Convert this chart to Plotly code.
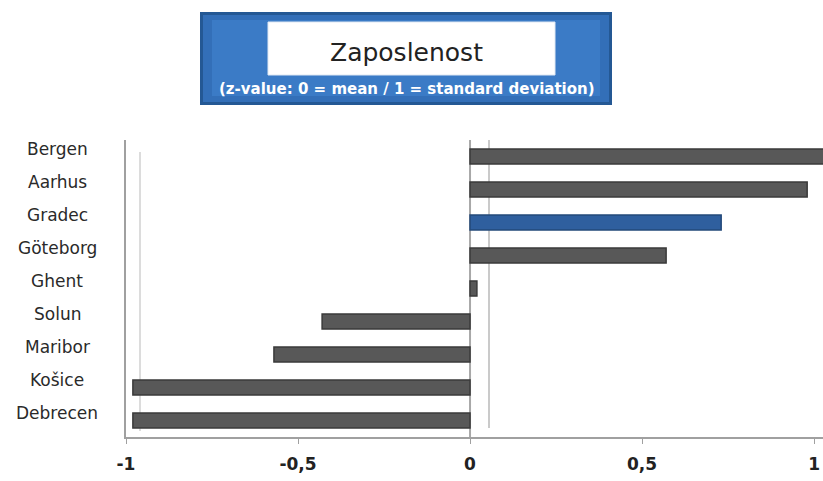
import plotly.graph_objects as go

cities = ["Bergen", "Aarhus", "Gradec", "Göteborg", "Ghent", "Solun", "Maribor", "Košice", "Debrecen"]
zvalues = [1.05, 0.98, 0.73, 0.57, 0.02, -0.43, -0.57, -0.98, -0.98]
highlight = "Gradec"
tick_vals = [-1, -0.5, 0, 0.5, 1]
tick_text = ["-1", "-0,5", "0", "0,5", "1"]

W, H = 823, 481
L, R, T, B = 126, 0, 140, 44
pw, ph = W - L - R, H - T - B

def px(x):
    return (x - L) / pw

def py(y):
    return (H - B - y) / ph

FONT = "DejaVu Sans"
colors = ["#2f5f9e" if c == highlight else "#585858" for c in cities]
lines = ["#23497a" if c == highlight else "#3a3a3a" for c in cities]

fig = go.Figure()
fig.add_trace(go.Bar(
    y=cities, x=zvalues, orientation="h",
    marker=dict(color=colors, line=dict(color=lines, width=1.5)),
    width=0.46, showlegend=False,
))

shapes = []
shapes.append(dict(type="line", xref="x", yref="paper", x0=0, x1=0, y0=0, y1=1.0,
                   line=dict(color="#a8a8a8", width=2), layer="below"))
shapes.append(dict(type="line", xref="paper", yref="paper", x0=px(140), x1=px(140), y0=0.02, y1=0.96,
                   line=dict(color="#d0d0d0", width=1.5), layer="below"))
shapes.append(dict(type="line", xref="paper", yref="paper", x0=px(489), x1=px(489), y0=0.03, y1=1.0,
                   line=dict(color="#b8b8b8", width=1.5), layer="below"))
# title box (simulated bevel/gradient)
shapes.append(dict(type="rect", xref="paper", yref="paper", x0=px(200), x1=px(612), y0=py(105), y1=py(12),
                   fillcolor="#245894", line=dict(width=0), layer="above"))
shapes.append(dict(type="rect", xref="paper", yref="paper", x0=px(203), x1=px(609), y0=py(102), y1=py(15),
                   fillcolor="#336fb8", line=dict(width=0), layer="above"))
shapes.append(dict(type="rect", xref="paper", yref="paper", x0=px(212), x1=px(600), y0=py(96), y1=py(20),
                   fillcolor="#3b7bc6", line=dict(width=0), layer="above"))
shapes.append(dict(type="rect", xref="paper", yref="paper", x0=px(268), x1=px(555), y0=py(75), y1=py(22),
                   fillcolor="#ffffff", line=dict(color="#dfe8f3", width=1), layer="above"))

annotations = [
    dict(text="Zaposlenost", xref="paper", yref="paper", x=px(406), y=py(52), showarrow=False,
         font=dict(family=FONT, size=25, color="#222222"), xanchor="center", yanchor="middle"),
    dict(text="<b>(z-value: 0 = mean / 1 = standard deviation)</b>", xref="paper", yref="paper",
         x=px(407), y=py(89), showarrow=False,
         font=dict(family=FONT, size=15, color="#ffffff"), xanchor="center", yanchor="middle"),
]
for c in cities:
    annotations.append(dict(text=c, xref="paper", yref="y", x=px(57), y=c, yshift=8, showarrow=False,
                            xanchor="center", yanchor="middle",
                            font=dict(family=FONT, size=17, color="#2a2a2a")))

fig.update_layout(
    width=W, height=H,
    margin=dict(l=L, r=R, t=T, b=B),
    paper_bgcolor="white", plot_bgcolor="white",
    shapes=shapes, annotations=annotations,
    xaxis=dict(range=[-1, 1.026], tickvals=tick_vals, ticktext=tick_text,
               showgrid=False, zeroline=False, showline=True, linecolor="#a0a0a0", linewidth=2,
               ticks="outside", ticklen=5, tickcolor="#a0a0a0", ticklabelstandoff=6,
               tickfont=dict(family=FONT, size=17, color="#222222", weight="bold")),
    yaxis=dict(categoryorder="array", categoryarray=cities[::-1], range=[-0.5, 8.5],
               showticklabels=False, showgrid=False, zeroline=False,
               showline=True, linecolor="#a0a0a0", linewidth=2),
)

fig.write_html("out.html", config={"displayModeBar": False},
               post_script="document.body.style.margin='0';")
